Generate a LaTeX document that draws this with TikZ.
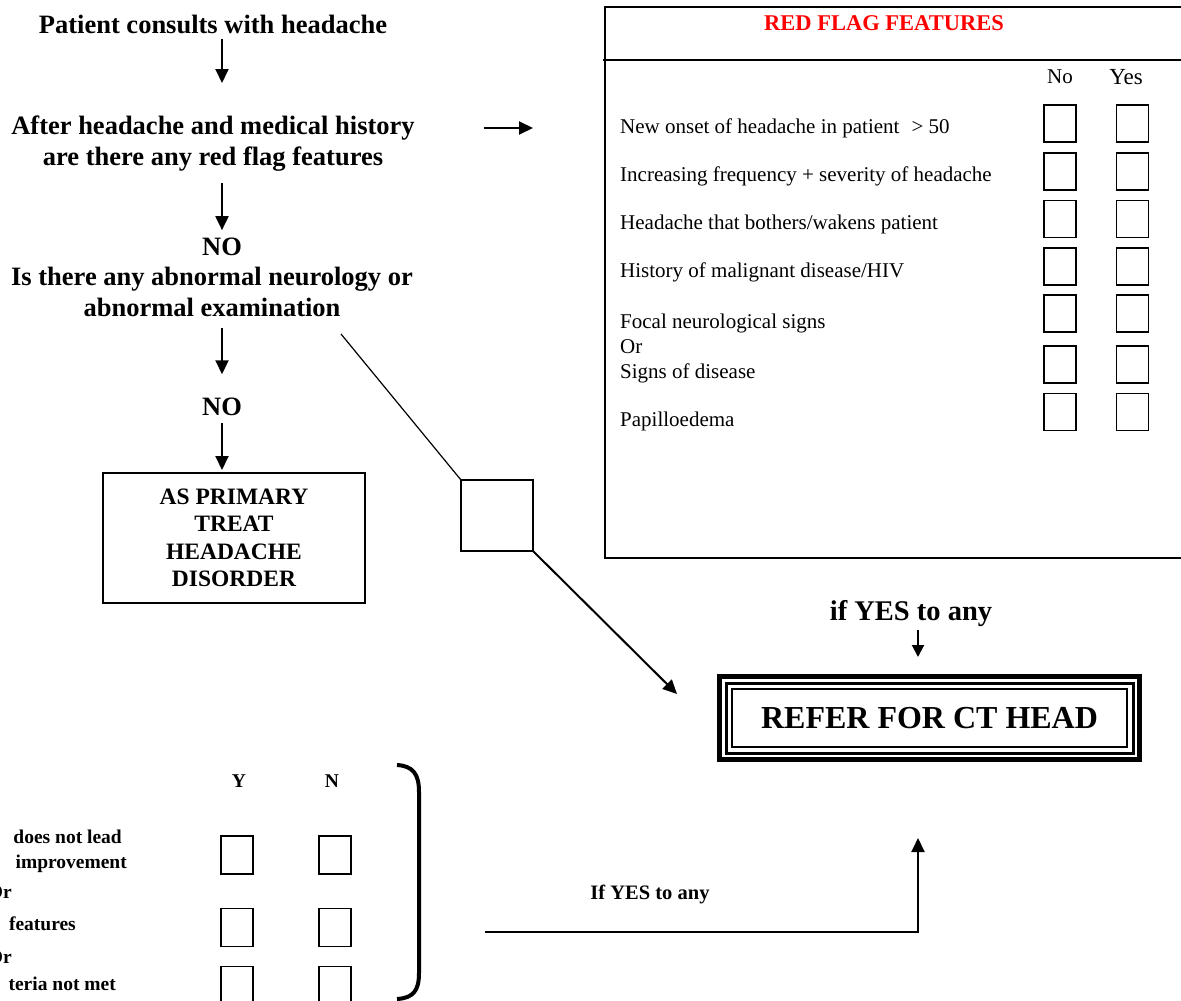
\documentclass[tikz,border=0pt]{standalone}
\usepackage{fontspec}
\setmainfont{Liberation Serif}
\usetikzlibrary{arrows.meta, positioning, calc}
\definecolor{flagred}{RGB}{255,0,0}

\begin{document}
\begin{tikzpicture}[x=1pt, y=-1pt,
  flow/.style={font=\fontsize{26.5}{31}\selectfont\bfseries, align=center, inner sep=0pt},
  item/.style={font=\fontsize{21}{25}\selectfont, align=left, inner sep=0pt, anchor=base west},
  side/.style={font=\fontsize{19.5}{23}\selectfont\bfseries, inner sep=0pt, anchor=base east},
  tick/.style={draw, line width=1.6pt, minimum width=32pt, minimum height=37pt, inner sep=0pt, outer sep=0pt},
  arr/.style={-{Triangle[length=14pt, width=13pt]}, line width=2pt},
]
  \useasboundingbox (0,0) rectangle (1181,1001);

  % Left column: questions
  \node[flow, anchor=base] (consult) at (213,33) {Patient consults with headache};
  \node[flow, anchor=north] (history) at (213,115.7) {After headache and medical history\\are there any red flag features};
  \node[flow, anchor=base] (no1) at (222,255) {NO};
  \node[flow, anchor=north] (neuro) at (212,267) {Is there any abnormal neurology or\\abnormal examination};
  \node[flow, anchor=base] (no2) at (222,415) {NO};
  \node[draw, line width=2.5pt, outer sep=0pt, minimum width=262pt, minimum height=130pt,
        font=\fontsize{23.5}{27.5}\selectfont\bfseries, align=center] (treat) at (234,538)
        {AS PRIMARY\\TREAT\\HEADACHE\\DISORDER};

  \draw[arr, shorten <=5pt, shorten >=32.7pt] (consult.south -| no1) -- (history.north -| no1);
  \draw[arr, shorten <=11.4pt, shorten >=7.1pt] (history.south -| no1) -- (no1.north);
  \draw[arr, shorten <=10.5pt, shorten >=23pt] (neuro.south -| no1) -- (no2.north);
  \draw[arr, shorten <=7.7pt, shorten >=3pt] (no2.south) -- (no2.south |- treat.north);

  % Red flag checklist
  \node[draw, line width=2pt, outer sep=0pt, anchor=north west, minimum width=600pt,
        minimum height=551pt] (flags) at (605,7) {};
  \draw[line width=1.5pt] (603,60) -- (flags.east |- 603,60);
  \node[font=\fontsize{22.5}{26}\selectfont\bfseries, text=flagred, inner sep=0pt, anchor=base] (rftitle) at (884,30) {RED FLAG FEATURES};
  \node[item, anchor=base] (nohd) at (1060,83) {No};
  \node[item, anchor=base, font=\fontsize{23}{26}\selectfont] (yeshd) at (1126,84) {Yes};

  \node[item] (rf1) at (620,133) {New onset of headache in patient\hspace{12pt}> 50};
  \node[item] (rf2) at (620,181) {Increasing frequency + severity of headache};
  \node[item] (rf3) at (620,229.5) {Headache that bothers/wakens patient};
  \node[item] (rf4) at (620,277) {History of malignant disease/HIV};
  \node[item, anchor=north west] (rf5) at (620,314) {Focal neurological signs\\Or\\Signs of disease};
  \node[item] (rf6) at (620,426) {Papilloedema};

  \foreach \r/\yy in {1/123.5, 2/171.5, 3/219, 4/266.5, 5/313.5, 6/364.5, 7/412} {
    \node[tick] (no\r) at (1060,\yy) {};
    \node[tick] (yes\r) at (1132.5,\yy) {};
  }

  % Route to CT
  \coordinate (toflags) at (533,128);
  \draw[arr, shorten <=69pt] (history.east |- toflags) -- (toflags);

  \node[draw, line width=1.5pt, outer sep=0pt, minimum width=72pt, minimum height=71pt] (sq) at (497,515.5) {};
  \coordinate (examend) at (341,334);
  \coordinate (ctleft) at (677,694);
  \draw[line width=1.2pt] (examend) -- (sq.north west);
  \draw[arr] (sq.south east) -- (ctleft);

  \node[draw, line width=5.5pt, outer sep=0pt, minimum width=420pt, minimum height=83pt,
        font=\fontsize{32}{36}\selectfont\bfseries] (ct) at (929.5,718) {REFER FOR CT HEAD};
  \draw[line width=3pt] ([shift={(6.5,6.5)}]ct.north west) rectangle ([shift={(-6.5,-6.5)}]ct.south east);
  \draw[line width=2pt] ([shift={(12.7,12.7)}]ct.north west) rectangle ([shift={(-12.7,-12.7)}]ct.south east);

  \node[font=\fontsize{28.5}{32}\selectfont\bfseries, inner sep=0pt, anchor=base] (ifyes) at (911,620) {if YES to any};
  \draw[-{Triangle[length=12pt, width=12pt]}, line width=2pt, shorten <=3.8pt, shorten >=19.5pt]
    ([xshift=7pt]ifyes.south) -- ([xshift=-11.5pt]ct.north);

  % Lower checklist
  \node[side, anchor=base] (ylab) at (239,787) {Y};
  \node[side, anchor=base] (nlab) at (332,787) {N};
  \foreach \r/\yy in {1/855, 2/927.5, 3/985.5} {
    \node[tick, minimum height=38pt] (cy\r) at (237,\yy) {};
    \node[tick, minimum height=38pt] (cn\r) at (335,\yy) {};
  }
  \node[side] (l1) at (122,843) {does not lead};
  \node[side] (l2) at (127,868) {improvement};
  \node[side] (l3) at (12,898) {Or};
  \node[side] (l4) at (76,930) {features};
  \node[side] (l5) at (12,963) {Or};
  \node[side] (l6) at (116,990) {teria not met};

  \draw[line width=4pt] (397,765) .. controls (413,766) and (419,774) .. (419,792)
    -- (419,973) .. controls (419,991) and (413,998) .. (397,999);

  \coordinate (fromlist) at (485,932);
  \draw[arr, shorten >=78.5pt] (fromlist) -| ([xshift=-11.5pt]ct.south);
  \node[font=\fontsize{20.5}{24}\selectfont\bfseries, inner sep=0pt, anchor=base] (ifyes2) at (650,899) {If YES to any};
\end{tikzpicture}
\end{document}
